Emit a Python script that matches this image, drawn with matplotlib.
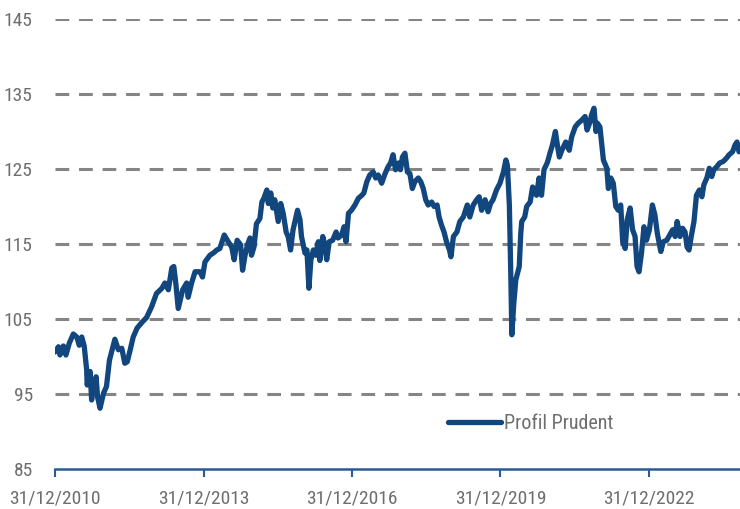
import matplotlib
matplotlib.use('Agg')
import matplotlib.pyplot as plt
import matplotlib.dates as mdates
import pandas as pd
import numpy as np

# decimal years (31/12/2010 = 2011.00)
years = [
    2011.00, 2011.07, 2011.10, 2011.17, 2011.22, 2011.29, 2011.37, 2011.44, 2011.49, 2011.54,
    2011.59, 2011.64, 2011.65, 2011.71, 2011.74, 2011.77, 2011.83, 2011.86, 2011.91, 2011.98,
    2012.04, 2012.10, 2012.21, 2012.28, 2012.35, 2012.41, 2012.46, 2012.52, 2012.58, 2012.66,
    2012.75, 2012.85, 2012.95, 2013.05, 2013.16, 2013.22, 2013.29, 2013.36, 2013.40, 2013.44,
    2013.49, 2013.58, 2013.66, 2013.69, 2013.76, 2013.83, 2013.93, 2013.98, 2014.03, 2014.13,
    2014.20, 2014.27, 2014.33, 2014.42, 2014.50, 2014.57, 2014.62, 2014.68, 2014.75, 2014.79,
    2014.84, 2014.89, 2014.94, 2014.97, 2015.02, 2015.07, 2015.14, 2015.18, 2015.22, 2015.28,
    2015.31, 2015.36, 2015.40, 2015.44, 2015.51, 2015.56, 2015.61, 2015.67, 2015.71, 2015.76,
    2015.81, 2015.90, 2015.95, 2015.98, 2016.05, 2016.09, 2016.13, 2016.17, 2016.22, 2016.27,
    2016.32, 2016.35, 2016.41, 2016.45, 2016.49, 2016.54, 2016.61, 2016.68, 2016.72, 2016.79,
    2016.84, 2016.88, 2016.93, 2016.99, 2017.06, 2017.13, 2017.20, 2017.24, 2017.30, 2017.36,
    2017.43, 2017.48, 2017.53, 2017.60, 2017.67, 2017.73, 2017.78, 2017.83, 2017.88, 2017.94,
    2017.98, 2018.02, 2018.07, 2018.12, 2018.17, 2018.22, 2018.27, 2018.34, 2018.39, 2018.44,
    2018.49, 2018.54, 2018.61, 2018.66, 2018.72, 2018.76, 2018.81, 2018.86, 2018.91, 2018.97,
    2019.00, 2019.05, 2019.12, 2019.18, 2019.25, 2019.33, 2019.38, 2019.45, 2019.52, 2019.57,
    2019.62, 2019.69, 2019.75, 2019.80, 2019.85, 2019.92, 2019.99, 2020.06, 2020.11, 2020.14,
    2020.18, 2020.21, 2020.23, 2020.27, 2020.31, 2020.38, 2020.41, 2020.43, 2020.49, 2020.53,
    2020.60, 2020.65, 2020.70, 2020.73, 2020.78, 2020.83, 2020.88, 2020.95, 2021.00, 2021.05,
    2021.11, 2021.15, 2021.19, 2021.24, 2021.32, 2021.39, 2021.44, 2021.51, 2021.57, 2021.64,
    2021.71, 2021.75, 2021.81, 2021.84, 2021.89, 2021.93, 2021.96, 2022.01, 2022.08, 2022.15,
    2022.18, 2022.23, 2022.28, 2022.33, 2022.38, 2022.43, 2022.47, 2022.52, 2022.56, 2022.62,
    2022.67, 2022.72, 2022.76, 2022.80, 2022.85, 2022.90, 2022.95, 2023.01, 2023.07, 2023.12,
    2023.17, 2023.24, 2023.29, 2023.36, 2023.42, 2023.48, 2023.53, 2023.57, 2023.63, 2023.68,
    2023.73, 2023.77, 2023.81, 2023.86, 2023.91, 2023.96, 2024.02, 2024.07, 2024.11, 2024.17,
    2024.22, 2024.27, 2024.31, 2024.37, 2024.43, 2024.50, 2024.56, 2024.62, 2024.69, 2024.74,
    2024.78, 2024.82,
]

values = [
    100.6, 101.3, 100.2, 101.4, 100.2, 101.8, 103.0, 102.6, 101.5, 102.6,
    101.4, 98.2, 96.2, 98.0, 94.2, 96.0, 97.3, 94.6, 93.1, 95.1,
    96.0, 99.5, 102.3, 100.9, 101.1, 99.1, 99.3, 100.9, 102.6, 103.8,
    104.5, 105.2, 106.6, 108.4, 109.1, 109.8, 108.9, 111.8, 112.0, 109.8,
    106.4, 108.9, 109.8, 107.9, 109.8, 111.3, 111.3, 110.6, 112.6, 113.5,
    113.8, 114.2, 114.4, 116.2, 115.3, 114.6, 112.9, 115.5, 114.9, 111.5,
    113.5, 114.9, 115.8, 113.5, 114.6, 117.7, 118.4, 120.6, 121.1, 122.2,
    120.4, 121.8, 119.8, 120.9, 118.0, 120.4, 119.1, 116.6, 116.0, 114.2,
    116.9, 119.5, 118.2, 116.0, 113.8, 114.2, 109.1, 112.9, 114.2, 113.5,
    115.3, 112.8, 116.0, 114.9, 112.9, 115.3, 115.5, 116.6, 115.8, 116.2,
    117.3, 115.3, 119.1, 119.5, 120.2, 121.1, 121.5, 121.8, 123.3, 124.2,
    124.6, 123.8, 124.2, 123.1, 124.4, 125.3, 125.8, 126.9, 124.9, 125.8,
    124.9, 126.6, 127.1, 124.6, 124.4, 122.4, 123.3, 123.8, 123.3, 122.4,
    120.9, 120.2, 120.6, 120.0, 120.2, 118.6, 117.5, 116.6, 115.3, 114.2,
    113.3, 116.0, 116.6, 118.0, 118.6, 120.2, 118.6, 120.2, 120.9, 121.3,
    119.5, 120.9, 119.3, 120.4, 120.9, 122.2, 123.1, 124.6, 126.2, 125.5,
    120.2, 110.6, 102.9, 107.1, 110.2, 112.0, 116.4, 118.0, 118.6, 120.0,
    120.6, 122.6, 121.8, 121.5, 123.8, 121.5, 124.9, 125.9, 127.1, 128.2,
    130.0, 128.2, 126.6, 127.5, 128.6, 127.5, 129.3, 130.6, 131.1, 131.5,
    132.0, 130.2, 131.3, 132.2, 133.1, 130.0, 131.1, 130.6, 126.2, 125.1,
    122.4, 123.8, 123.1, 120.0, 119.5, 120.2, 115.3, 114.4, 118.2, 119.8,
    116.9, 116.0, 112.0, 111.3, 113.8, 117.3, 115.5, 116.9, 120.2, 118.9,
    116.4, 114.0, 115.3, 115.5, 116.2, 116.9, 116.0, 118.0, 116.0, 117.1,
    116.6, 114.6, 114.2, 116.2, 118.0, 121.5, 122.2, 121.3, 122.9, 123.8,
    125.1, 124.0, 124.9, 125.3, 125.8, 126.0, 126.4, 126.9, 127.3, 128.2,
    128.6, 127.3,
]

tick_dates = ['2010-12-31', '2013-12-31', '2016-12-31', '2019-12-31', '2022-12-31']
y_ticks = [85, 95, 105, 115, 125, 135, 145]
series_name = 'Profil Prudent'

blue = '#12467f'
grey = '#858585'
label_grey = '#6e6e6e'
plt.rcParams['font.family'] = ['Roboto Condensed', 'Liberation Sans Narrow', 'Liberation Sans']

start = pd.Timestamp('2010-12-31')
dates = [start + pd.to_timedelta((y - 2011.0) * 365.25, unit='D') for y in years]

fig = plt.figure(figsize=(7.4, 5.09), dpi=100)
ax = fig.add_axes([55 / 740, 40 / 509, 685 / 740, 450 / 509])

ax.plot(dates, values, color=blue, linewidth=3.8, solid_joinstyle='round',
        solid_capstyle='round', label=series_name, zorder=3)

ax.set_ylim(85, 145)
ax.set_yticks(y_ticks)
ax.set_xlim(start, start + pd.to_timedelta(13.84 * 365.25, unit='D'))
ax.set_xticks(pd.to_datetime(tick_dates))
ax.xaxis.set_major_formatter(mdates.DateFormatter('%d/%m/%Y'))

for v in y_ticks[1:]:
    ax.axhline(v, color=grey, linewidth=2.2, linestyle=(0, (4.5, 3.2)), zorder=1)

for s in ['left', 'right', 'top']:
    ax.spines[s].set_visible(False)
ax.spines['bottom'].set_color('#2a5b97')
ax.spines['bottom'].set_linewidth(1.8)

ax.tick_params(axis='y', length=0, pad=16, labelsize=14, labelcolor=label_grey)
ax.tick_params(axis='x', length=6, width=1.5, color='#2a5b97', pad=9,
               labelsize=14, labelcolor=label_grey)

leg = ax.legend(loc='center left', bbox_to_anchor=(0.574, 0.102), frameon=False,
                borderpad=0, borderaxespad=0, handlelength=2.6, handletextpad=0.15,
                fontsize=14.5)
for t in leg.get_texts():
    t.set_color(label_grey)

plt.savefig('out.png', dpi=100)
plt.close()
